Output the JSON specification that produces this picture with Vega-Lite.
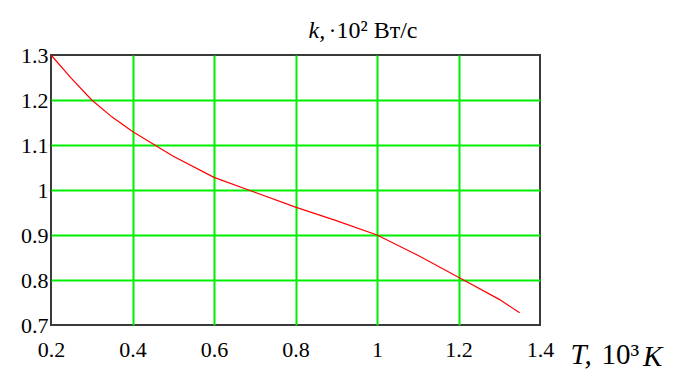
{
  "$schema": "https://vega.github.io/schema/vega-lite/v6.json",
  "autosize": {"type": "none"},
  "padding": {"left": 51, "top": 55, "right": 136, "bottom": 49},
  "width": 489,
  "height": 270,
  "background": "white",
  "config": {
    "view": {"stroke": "#3a3a3a", "strokeWidth": 2},
    "font": "Liberation Serif"
  },
  "title": {
    "text": "K",
    "orient": "bottom",
    "anchor": "start",
    "frame": "group",
    "font": "Liberation Serif",
    "fontSize": 29,
    "fontStyle": "italic",
    "fontWeight": "normal",
    "color": "black",
    "offset": 0,
    "dx": 592,
    "dy": -26
  },
  "data": {
    "values": [
      {"T": 0.2, "k": 1.3},
      {"T": 0.25, "k": 1.248},
      {"T": 0.3, "k": 1.2},
      {"T": 0.35, "k": 1.162},
      {"T": 0.4, "k": 1.13},
      {"T": 0.5, "k": 1.075},
      {"T": 0.6, "k": 1.028},
      {"T": 0.7, "k": 0.995},
      {"T": 0.8, "k": 0.962},
      {"T": 0.9, "k": 0.932},
      {"T": 1.0, "k": 0.9},
      {"T": 1.1, "k": 0.855},
      {"T": 1.2, "k": 0.806},
      {"T": 1.3, "k": 0.757},
      {"T": 1.35, "k": 0.727}
    ]
  },
  "resolve": {"axis": {"x": "independent", "y": "independent"}},
  "layer": [
    {
      "mark": {"type": "line", "color": "#ff0000", "strokeWidth": 1.2},
      "encoding": {
        "x": {
          "field": "T",
          "type": "quantitative",
          "scale": {"domain": [0.2, 1.4], "nice": false, "zero": false},
          "axis": {
            "orient": "bottom",
            "values": [0.2, 0.4, 0.6, 0.8, 1.0, 1.2, 1.4],
            "format": "~g",
            "domain": false,
            "ticks": false,
            "grid": true,
            "gridColor": {"condition": {"test": "datum.value <= 0.2001 || datum.value >= 1.3999", "value": "transparent"}, "value": "#00ee00"},
            "gridWidth": 2,
            "gridOpacity": 1,
            "labelFont": "Liberation Serif",
            "labelFontSize": 22,
            "labelColor": "black",
            "labelPadding": 14,
            "labelFlush": false,
            "labelOverlap": false,
            "title": "T,",
            "titleFont": "Liberation Serif",
            "titleFontSize": 29,
            "titleFontStyle": "italic",
            "titleFontWeight": "normal",
            "titleColor": "black",
            "titleAlign": "left",
            "titleBaseline": "alphabetic",
            "titleX": 519,
            "titleY": 38
          }
        },
        "y": {
          "field": "k",
          "type": "quantitative",
          "scale": {"domain": [0.7, 1.3], "nice": false, "zero": false},
          "axis": {
            "orient": "left",
            "values": [0.7, 0.8, 0.9, 1.0, 1.1, 1.2, 1.3],
            "format": "~g",
            "domain": false,
            "ticks": false,
            "grid": true,
            "gridColor": {"condition": {"test": "datum.value <= 0.7001 || datum.value >= 1.2999", "value": "transparent"}, "value": "#00ee00"},
            "gridWidth": 2,
            "gridOpacity": 1,
            "labelFont": "Liberation Serif",
            "labelFontSize": 22,
            "labelColor": "black",
            "labelPadding": 3,
            "labelFlush": false,
            "labelOverlap": false,
            "labelBaseline": "middle",
            "labelDy": 3,
            "title": "k,",
            "titleFont": "Liberation Serif",
            "titleFontSize": 24,
            "titleFontStyle": "italic",
            "titleFontWeight": "normal",
            "titleColor": "black",
            "titleAngle": 0,
            "titleAlign": "left",
            "titleBaseline": "alphabetic",
            "titleX": 257,
            "titleY": -18
          }
        }
      }
    },
    {
      "mark": {"type": "line", "opacity": 0},
      "encoding": {
        "x": {
          "field": "T",
          "type": "quantitative",
          "axis": {
            "orient": "top",
            "domain": false,
            "ticks": false,
            "labels": false,
            "grid": false,
            "title": "10³",
            "titleFont": "Liberation Serif",
            "titleFontSize": 29,
            "titleFontWeight": "normal",
            "titleColor": "black",
            "titleAlign": "left",
            "titleBaseline": "alphabetic",
            "titleX": 550,
            "titleY": 308
          }
        },
        "y": {
          "field": "k",
          "type": "quantitative",
          "axis": {
            "orient": "right",
            "domain": false,
            "ticks": false,
            "labels": false,
            "grid": false,
            "title": "·10²  Вт/с",
            "titleFont": "Liberation Serif",
            "titleFontSize": 24,
            "titleFontWeight": "normal",
            "titleColor": "black",
            "titleAngle": 0,
            "titleAlign": "left",
            "titleBaseline": "alphabetic",
            "titleX": -212,
            "titleY": -18
          }
        }
      }
    }
  ]
}
